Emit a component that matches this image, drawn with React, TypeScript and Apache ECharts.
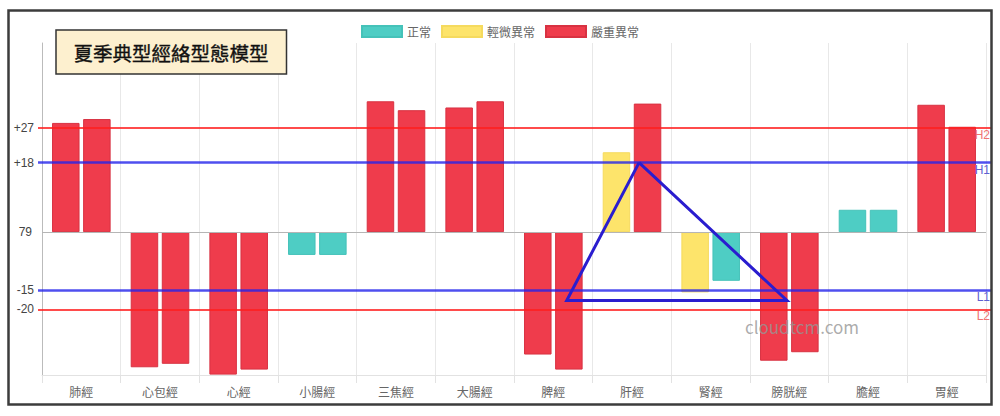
import React, { useEffect, useRef } from "react";
import * as echarts from "echarts";

const categories = ["肺經", "心包經", "心經", "小腸經", "三焦經", "大腸經", "脾經", "肝經", "腎經", "膀胱經", "膽經", "胃經"];
const leftValues = [28.3, -35.0, -36.9, -5.9, 33.9, 32.3, -31.7, 20.7, -15.6, -33.3, 5.8, 33.0];
const rightValues = [29.3, -34.1, -35.6, -5.9, 31.6, 33.9, -35.6, 33.3, -12.6, -31.1, 5.8, 27.3];
const leftStatus = ["severe", "severe", "severe", "normal", "severe", "severe", "severe", "mild", "mild", "severe", "normal", "severe"];
const rightStatus = ["severe", "severe", "severe", "normal", "severe", "severe", "severe", "severe", "normal", "severe", "normal", "severe"];
const statusKeys = ["normal", "mild", "severe"];
const statusNames: Record<string, string> = { normal: "正常", mild: "輕微異常", severe: "嚴重異常" };
const thresholdValues = [27, 18, -15, -20];
const thresholdLeftLabels = ["+27", "+18", "-15", "-20"];
const thresholdRightLabels = ["H2", "H1", "L1", "L2"];
const baselineValue = 0;
const baselineLabel = "79";
const triangleX = [7.59, 9.47, 6.67, 7.59];
const triangleY = [18, -17.7, -17.7, 18];
const titleText = "夏季典型經絡型態模型";
const watermarkText = "cloudtcm.com";

const statusColors: Record<string, string> = { normal: "#4ecdc4", mild: "#fde46b", severe: "#ef3c4c" };
const statusBorders: Record<string, string> = { normal: "#45c2b9", mild: "#f5da5e", severe: "#d83242" };
const thresholdColors = ["rgba(255,30,30,0.8)", "rgba(35,35,235,0.8)", "rgba(35,35,235,0.8)", "rgba(255,30,30,0.8)"];
const thresholdWidths = [2, 2.5, 2.5, 2];
const thresholdLabelColors = ["#f07272", "#6060d0", "#6060d0", "#f07272"];

const FONT = "'Noto Sans CJK TC', 'Noto Sans', sans-serif";
const LATIN = "'Liberation Sans', 'Noto Sans', sans-serif";

export default function App() {
  const ref = useRef<HTMLDivElement>(null);
  useEffect(() => {
    document.body.style.margin = "0";
    if (!ref.current) return;
    const chart = echarts.init(ref.current, null, { renderer: "svg" });

    const markData: any[] = [];
    thresholdValues.forEach((v, i) => {
      markData.push([
        {
          x: 38,
          yAxis: v,
          lineStyle: { color: thresholdColors[i], width: thresholdWidths[i], type: "solid" },
          label: {
            show: true,
            position: "insideEndBottom",
            formatter: thresholdRightLabels[i],
            color: thresholdLabelColors[i],
            fontSize: 12,
            fontFamily: LATIN,
            distance: 1,
          },
        },
        { x: 991, yAxis: v },
      ]);
      markData.push([
        {
          x: 38,
          yAxis: v,
          lineStyle: { color: "rgba(0,0,0,0)", width: 0 },
          label: {
            show: true,
            position: "start",
            formatter: thresholdLeftLabels[i],
            color: "#444",
            fontSize: 12,
            fontFamily: LATIN,
            distance: 4,
          },
        },
        { x: 991, yAxis: v },
      ]);
    });
    markData.push({
      yAxis: baselineValue,
      lineStyle: { color: "#b5b5b5", width: 1, type: "solid" },
      label: {
        show: true,
        position: "start",
        formatter: baselineLabel,
        color: "#444",
        fontSize: 12,
        fontFamily: LATIN,
        distance: 10,
      },
    });

    const series: any[] = [];
    (["L", "R"] as const).forEach((side) => {
      const vals = side === "L" ? leftValues : rightValues;
      const st = side === "L" ? leftStatus : rightStatus;
      statusKeys.forEach((s) => {
        const item: any = {
          name: statusNames[s],
          type: "bar",
          stack: side,
          barWidth: 27.5,
          barGap: "13%",
          data: vals.map((v, i) => (st[i] === s ? v : "-")),
          itemStyle: { color: statusColors[s], borderColor: statusBorders[s], borderWidth: 1 },
          emphasis: { disabled: true },
        };
        if (series.length === 0) {
          item.markLine = {
            silent: true,
            symbol: ["none", "none"],
            z: 6,
            data: markData,
          };
        }
        series.push(item);
      });
    });
    series.push({
      name: "triangle",
      type: "line",
      xAxisIndex: 1,
      data: triangleX.map((x, i) => [x, triangleY[i]]),
      symbol: "none",
      lineStyle: { color: "#2a1dcf", width: 3, join: "miter" },
      z: 10,
      silent: true,
    });

    chart.setOption({
      animation: false,
      textStyle: { fontFamily: FONT },
      legend: {
        data: statusKeys.map((s) => statusNames[s]),
        top: 20,
        left: "center",
        icon: "rect",
        itemWidth: 40,
        itemHeight: 11,
        itemGap: 10,
        textStyle: { fontSize: 12, color: "#666", fontFamily: FONT },
        selectedMode: false,
      },
      grid: { left: 42, right: 14, top: 43, bottom: 41, containLabel: false },
      xAxis: [
        {
          type: "category",
          data: categories,
          position: "bottom",
          axisLine: { onZero: false, lineStyle: { color: "#e2e2e2" } },
          axisTick: { show: true, length: 8, lineStyle: { color: "#e2e2e2" } },
          axisLabel: { color: "#666", fontSize: 12, margin: 10, fontFamily: FONT },
          splitLine: { show: true, lineStyle: { color: "#e8e8e8" } },
        },
        { type: "value", min: 0, max: 12, show: false },
      ],
      yAxis: {
        type: "value",
        min: -37,
        max: 49,
        axisLabel: { show: false },
        axisTick: { show: false },
        splitLine: { show: false },
        axisLine: { show: true, lineStyle: { color: "#bbb" } },
      },
      graphic: [
        {
          type: "rect",
          shape: { x: 8.5, y: 10.5, width: 983, height: 394 },
          style: { fill: "none", stroke: "#3c3c3c", lineWidth: 2.5 },
          silent: true,
          z: 100,
        },
        {
          type: "rect",
          shape: { x: 56, y: 30, width: 230.5, height: 44 },
          style: { fill: "#fdf0cf", stroke: "#333", lineWidth: 1.5 },
          z: 100,
        },
        {
          type: "text",
          x: 171,
          y: 52.5,
          style: {
            text: titleText,
            fill: "#111",
            stroke: "#111",
            lineWidth: 0.35,
            font: `normal 19.5px ${FONT}`,
            align: "center",
            verticalAlign: "middle",
          },
          z: 101,
        },
        {
          type: "text",
          x: 745,
          y: 326,
          style: {
            text: watermarkText,
            fill: "rgba(150,150,150,0.8)",
            font: `17px ${FONT}`,
            align: "left",
            verticalAlign: "middle",
          },
          z: 101,
          silent: true,
        },
      ],
      series,
    });
    return () => chart.dispose();
  }, []);
  return <div ref={ref} style={{ width: 1000, height: 416 }} />;
}
